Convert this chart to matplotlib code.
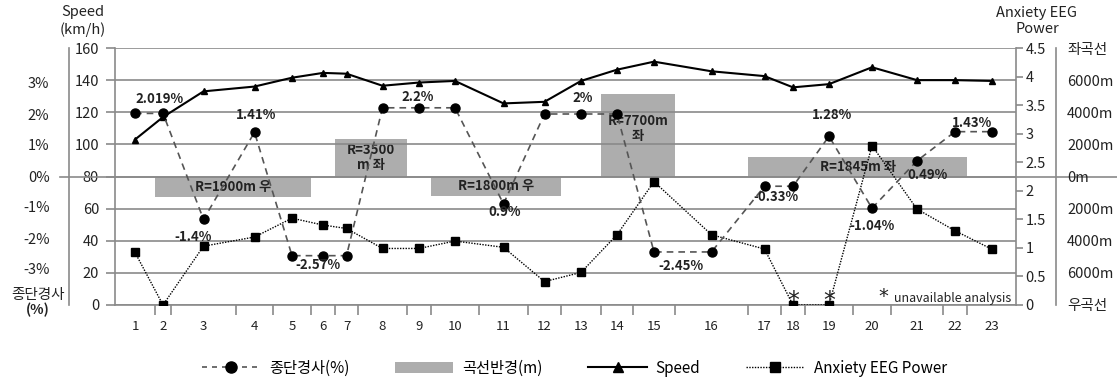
import matplotlib.pyplot as plt
from matplotlib.lines import Line2D
from matplotlib.patches import Patch
from matplotlib.ticker import FuncFormatter

plt.rcParams['font.family'] = ['Noto Sans CJK KR', 'DejaVu Sans']
plt.rcParams['axes.unicode_minus'] = False

# 구간 데이터 (1~23 지점)
stations = [str(i) for i in range(1, 24)]
# 구간 경계 위치 (주행 거리 기준, 상대값)
section_edges = [0, 40, 56, 121, 158, 196, 220, 243, 292, 316, 364, 413,
                 446, 486, 518, 560, 633, 666, 690, 738, 776, 828, 852, 901]
speed = [103, 117, 133, 136, 141.5, 144.5, 144, 136.5, 138.5, 139.5, 125.5, 126.5,
         139.5, 146.5, 151.5, 145.5, 142.5, 135.5, 137.5, 148, 140, 140, 139.5]
anxiety = [0.92, 0, 1.03, 1.19, 1.52, 1.40, 1.34, 0.99, 0.99, 1.12, 1.01, 0.41,
           0.57, 1.23, 2.16, 1.23, 0.98, 0, 0, 2.79, 1.68, 1.30, 0.98]
slope = [2.019, 2.019, -1.4, 1.41, -2.57, -2.57, -2.57, 2.2, 2.2, 2.2, -0.9, 2,
         2, 2, -2.45, -2.45, -0.33, -0.33, 1.28, -1.04, 0.49, 1.43, 1.43]
slope_labels = ['2.019%', '-1.4%', '1.41%', '-2.57%', '2.2%', '0.9%', '2%',
                '-2.45%', '-0.33%', '1.28%', '-1.04%', '0.49%', '1.43%']
unavailable = [18, 19]

# 곡선 구간: 시작/끝 지점, 반경, 방향
curve_start = [2, 7, 10, 14, 17]
curve_end = [5, 8, 12, 15, 22]
curve_radius = [1900, 3500, 1800, 7700, 1845]
curve_side = ['우', '좌', '우', '좌', '좌']
curve_labels = ['R=1900m 우', 'R=3500\nm 좌', 'R=1800m 우', 'R=7700m\n좌', 'R=1845m 좌']

# 경사 라벨 위치 (x: 거리, y: 경사%)
slope_label_x = [45, 78, 141, 203, 303, 390, 468, 566, 661, 717, 757, 813, 857]
slope_label_y = [2.48, -1.97, 1.97, -2.87, 2.55, -1.16, 2.52, -2.89, -0.68, 1.97, -1.61, 0.03, 1.71]

pos = [(section_edges[i] + section_edges[i + 1]) / 2 for i in range(len(stations))]

line_gray = '#8a8a8a'
text_col = '#222222'
bar_col = '#adadad'

fig = plt.figure(figsize=(11.17, 3.83), dpi=100)
ax = fig.add_axes([115 / 1117, 78 / 383, 901 / 1117, 257 / 383])
ax_bar = ax.twinx()
ax_r = ax.twinx()
ax_anx = ax.twinx()
ax_s = ax.twinx()
ax_bar.set_zorder(0)
ax.set_zorder(1)
ax_r.set_zorder(1)
ax_anx.set_zorder(2)
ax_s.set_zorder(3)
ax.patch.set_visible(False)

# 곡선반경 막대
ax_bar.set_ylim(-12000, 12000)
ax_bar.axis('off')
for s, e, r, side, lab in zip(curve_start, curve_end, curve_radius, curve_side, curve_labels):
    x0 = section_edges[s - 1]
    x1 = section_edges[e]
    h = r if side == '좌' else -r
    ax_bar.bar(x0, h, width=x1 - x0, align='edge', color=bar_col, zorder=1)
    ty = h * 0.58 if r > 5000 else h / 2
    ax_bar.text((x0 + x1) / 2, ty, lab, ha='center', va='center', fontsize=9.5,
                fontweight='bold', color=text_col, linespacing=1.05, zorder=2)

# 속도 축
ax.set_xlim(0, 901)
ax.set_ylim(0, 160)
ax.set_yticks(range(0, 161, 20))
ax.yaxis.grid(True, color=line_gray, lw=1.2)
ax.set_axisbelow(True)
for sp in ['top', 'right']:
    ax.spines[sp].set_visible(False)
for sp in ['left', 'bottom']:
    ax.spines[sp].set_color(line_gray)
    ax.spines[sp].set_linewidth(1.2)
ax.tick_params(axis='y', direction='out', length=6.5, width=1.2, color=line_gray,
               pad=5, labelsize=10.5, labelcolor=text_col)
ax.set_xticks(section_edges[1:-1])
ax.set_xticklabels([])
ax.set_xticks(pos, minor=True)
ax.set_xticklabels(stations, minor=True)
ax.tick_params(axis='x', which='major', direction='out', length=7, width=1.2, color=line_gray)
ax.tick_params(axis='x', which='minor', length=0, pad=11, labelsize=9.5, labelcolor=text_col)
ax.axhline(80, xmin=-55 / 901, xmax=1050 / 901, color=line_gray, lw=1.2, clip_on=False)
ax.plot(pos, speed, color='black', lw=1.5, marker='^', ms=5, zorder=3)

# 불안 뇌파 축
ax_anx.set_ylim(0, 4.5)
ax_anx.set_yticks([i * 0.5 for i in range(10)])
ax_anx.yaxis.set_major_formatter(FuncFormatter(lambda v, p: '%g' % v))
for sp in ['top', 'left', 'bottom']:
    ax_anx.spines[sp].set_visible(False)
ax_anx.spines['right'].set_color(line_gray)
ax_anx.spines['right'].set_linewidth(1.2)
ax_anx.tick_params(axis='y', direction='out', length=5, width=1.2, color=line_gray,
                   pad=2, labelsize=10.5, labelcolor=text_col)
ax_anx.plot(pos, anxiety, color='black', lw=1.0, ls=(0, (1, 1)), marker='s', ms=5.5)
for st in unavailable:
    ax_anx.text(pos[st - 1], anxiety[st - 1] - 0.05, '*', ha='center', va='baseline',
                fontsize=17, color=text_col, family='DejaVu Sans')
ax_anx.text(768, 0.05, '*', ha='center', va='baseline', fontsize=14, color=text_col,
            family='DejaVu Sans')
ax_anx.text(896, 0.12, 'unavailable analysis', ha='right', va='center', fontsize=9,
            color=text_col)

# 종단경사 축
ax_s.set_ylim(-129 / 31, 128 / 31)
ax_s.set_yticks(range(-3, 4))
ax_s.yaxis.set_major_formatter(FuncFormatter(lambda v, p: '%d%%' % v))
ax_s.yaxis.set_ticks_position('left')
for sp in ['top', 'right', 'bottom']:
    ax_s.spines[sp].set_visible(False)
ax_s.spines['left'].set_position(('axes', -46 / 901))
ax_s.spines['left'].set_color(line_gray)
ax_s.spines['left'].set_linewidth(1.2)
ax_s.tick_params(axis='y', length=0, pad=14, labelsize=10.5, labelcolor=text_col)
ax_s.plot(pos, slope, color='#555555', lw=1.2, ls=(0, (4, 3)), marker='o', ms=6.5,
          mfc='black', mec='black')
for tx, ty, lab in zip(slope_label_x, slope_label_y, slope_labels):
    ax_s.text(tx, ty, lab, ha='center', va='center', fontsize=9.5, fontweight='bold',
              color=text_col)

# 곡선반경 축
ax_r.set_ylim(-8031, 8031)
ax_r.set_yticks(range(-8000, 8001, 2000))
ax_r.set_yticklabels(['우곡선', '6000m', '4000m', '2000m', '0m', '2000m', '4000m',
                      '6000m', '좌곡선'])
for sp in ['top', 'left', 'bottom']:
    ax_r.spines[sp].set_visible(False)
ax_r.spines['right'].set_position(('axes', 1 + 40 / 901))
ax_r.spines['right'].set_color(line_gray)
ax_r.spines['right'].set_linewidth(1.2)
ax_r.tick_params(axis='y', length=0, pad=8, labelsize=10.5, labelcolor=text_col)

# 축 제목
fig.text(83 / 1117, 1 - 21 / 383, 'Speed\n(km/h)', ha='center', va='center',
         fontsize=10.5, color=text_col, linespacing=1.2)
fig.text(1037 / 1117, 1 - 21 / 383, 'Anxiety EEG\nPower', ha='center', va='center',
         fontsize=10.5, color=text_col, linespacing=1.2)
fig.text(38 / 1117, 1 - 295 / 383, '종단경사', ha='center', va='center',
         fontsize=10.5, color=text_col)
fig.text(38 / 1117, 1 - 310 / 383, '(%)', ha='center', va='center',
         fontsize=10, fontweight='bold', color=text_col)

# 범례
handles = [
    Line2D([], [], color='#555555', lw=1.2, ls=(0, (3, 3)), marker='o', ms=8,
           mfc='black', mec='black'),
    Patch(facecolor=bar_col),
    Line2D([], [], color='black', lw=1.5, marker='^', ms=7),
    Line2D([], [], color='black', lw=1.0, ls=(0, (1, 1)), marker='s', ms=7),
]
labels = ['종단경사(%)', '곡선반경(m)', 'Speed', 'Anxiety EEG Power']
fig.legend(handles, labels, loc='center', bbox_to_anchor=(0.514, 0.039), ncol=4,
           frameon=False, handlelength=3.8, columnspacing=3.0, handletextpad=0.6,
           fontsize=11)

fig.savefig('out.png', dpi=100)
plt.close(fig)
